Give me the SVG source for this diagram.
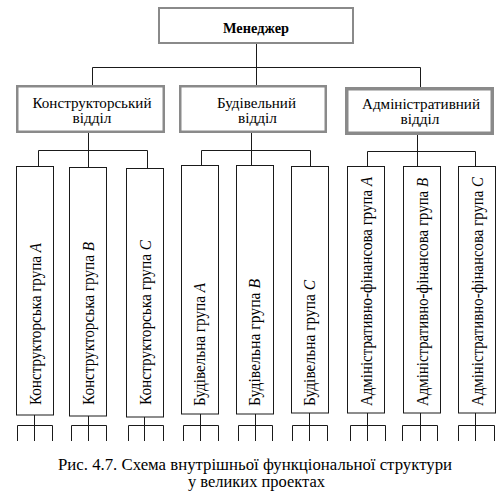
<svg xmlns="http://www.w3.org/2000/svg" width="502" height="497" viewBox="0 0 502 497">
<style>
.bg{fill:#fff}
.top{fill:#fff;stroke:#8a8a8a;stroke-width:2}
.dept{fill:#fff;stroke:#8a8a8a;stroke-width:2.5}
.dept3{fill:#fff;stroke:#8a8a8a;stroke-width:3.5}
.col{fill:#fff;stroke:#1a1a1a;stroke-width:1}
.ln{fill:none;stroke:#1a1a1a;stroke-width:1}
text{font-family:'Liberation Serif','DejaVu Serif',serif;fill:#000}
.t15{font-size:15px}
.t14{font-size:16px}
.cap{font-size:16px}
.b{font-weight:bold}
.i{font-style:italic}
</style>
<rect class="bg" x="0" y="0" width="502" height="497"/>
<g id="connectors">
<path class="ln" d="M256.5,44V67.5M92.5,67.5H420.5M92.5,67.5V85M256.5,67.5V85M420.5,67.5V87"/>
<path class="ln" d="M88.5,133V150.5M38.5,150.5H147.5M38.5,150.5V166M88.5,150.5V167M147.5,150.5V168"/>
<path class="ln" d="M251.5,133V150.5M201.5,150.5H310.5M201.5,150.5V165M251.5,150.5V165M310.5,150.5V166"/>
<path class="ln" d="M417.5,135V151.5M367.5,151.5H475.5M367.5,151.5V166M417.5,151.5V166M475.5,151.5V166"/>
<path class="ln" d="M34.5,415V425.5M17.5,425.5H52.5M17.5,425.5V441M34.5,425.5V441M52.5,425.5V441"/>
<path class="ln" d="M88.5,416V425.5M71.5,425.5H106.5M71.5,425.5V441M88.5,425.5V441M106.5,425.5V441"/>
<path class="ln" d="M144.5,417V425.5M128.5,425.5H163.5M128.5,425.5V441M144.5,425.5V441M163.5,425.5V441"/>
<path class="ln" d="M200.5,414V425.5M183.5,425.5H218.5M183.5,425.5V441M200.5,425.5V441M218.5,425.5V441"/>
<path class="ln" d="M255.5,414V425.5M238.5,425.5H272.5M238.5,425.5V441M255.5,425.5V441M272.5,425.5V441"/>
<path class="ln" d="M309.5,413V425.5M292.5,425.5H327.5M292.5,425.5V441M309.5,425.5V441M327.5,425.5V441"/>
<path class="ln" d="M367.5,413V425.5M350.5,425.5H385.5M350.5,425.5V441M367.5,425.5V441M385.5,425.5V441"/>
<path class="ln" d="M420.5,413V425.5M402.5,425.5H437.5M402.5,425.5V441M420.5,425.5V441M437.5,425.5V441"/>
<path class="ln" d="M475.5,413V425.5M458.5,425.5H494.5M458.5,425.5V441M475.5,425.5V441M494.5,425.5V441"/>
</g>
<g id="manager">
<rect class="top" x="159" y="8" width="194" height="35"/>
<text class="t15 b" x="256" y="33" text-anchor="middle" textLength="66" lengthAdjust="spacingAndGlyphs">Менеджер</text>
</g>
<g id="dept-design">
<rect class="dept" x="17.25" y="86.25" width="146.5" height="45.5"/>
<text class="t15" x="92" y="108" text-anchor="middle" textLength="119" lengthAdjust="spacingAndGlyphs">Конструкторський</text>
<text class="t15" x="92" y="123" text-anchor="middle" textLength="39" lengthAdjust="spacingAndGlyphs">відділ</text>
</g>
<g id="dept-build">
<rect class="dept" x="180.25" y="86.25" width="145.5" height="45.5"/>
<text class="t15" x="256.5" y="108" text-anchor="middle" textLength="79" lengthAdjust="spacingAndGlyphs">Будівельний</text>
<text class="t15" x="257.5" y="123" text-anchor="middle" textLength="39" lengthAdjust="spacingAndGlyphs">відділ</text>
</g>
<g id="dept-admin">
<rect class="dept3" x="346.75" y="88.75" width="145.5" height="44.5"/>
<text class="t15" x="421" y="109" text-anchor="middle" textLength="118" lengthAdjust="spacingAndGlyphs">Адміністративний</text>
<text class="t15" x="420" y="124" text-anchor="middle" textLength="39" lengthAdjust="spacingAndGlyphs">відділ</text>
</g>
<g id="group-k-a">
<rect class="col" x="16.5" y="166.5" width="37" height="248.5"/>
<text class="t14" transform="translate(41,405) rotate(-90)" textLength="162" lengthAdjust="spacingAndGlyphs">Конструкторська група  <tspan class="i">A</tspan></text>
</g>
<g id="group-k-b">
<rect class="col" x="69.5" y="167.5" width="37" height="248.5"/>
<text class="t14" transform="translate(93.5,405) rotate(-90)" textLength="163" lengthAdjust="spacingAndGlyphs">Конструкторська група  <tspan class="i">B</tspan></text>
</g>
<g id="group-k-c">
<rect class="col" x="126.5" y="168.5" width="37" height="248.5"/>
<text class="t14" transform="translate(150.5,405) rotate(-90)" textLength="165" lengthAdjust="spacingAndGlyphs">Конструкторська група  <tspan class="i">C</tspan></text>
</g>
<g id="group-b-a">
<rect class="col" x="181.5" y="165.5" width="37" height="248.5"/>
<text class="t14" transform="translate(205,406) rotate(-90)" textLength="123" lengthAdjust="spacingAndGlyphs">Будівельна група  <tspan class="i">A</tspan></text>
</g>
<g id="group-b-b">
<rect class="col" x="236.5" y="165.5" width="37" height="248.5"/>
<text class="t14" transform="translate(260,406) rotate(-90)" textLength="127" lengthAdjust="spacingAndGlyphs">Будівельна група  <tspan class="i">B</tspan></text>
</g>
<g id="group-b-c">
<rect class="col" x="291.5" y="166.5" width="37" height="246.5"/>
<text class="t14" transform="translate(315,406) rotate(-90)" textLength="126" lengthAdjust="spacingAndGlyphs">Будівельна група  <tspan class="i">C</tspan></text>
</g>
<g id="group-a-a">
<rect class="col" x="347.5" y="166.5" width="37" height="246.5"/>
<text class="t14" transform="translate(371.5,406) rotate(-90)" textLength="229" lengthAdjust="spacingAndGlyphs">Адміністративно-фінансова група <tspan class="i">A</tspan></text>
</g>
<g id="group-a-b">
<rect class="col" x="403.5" y="166.5" width="37" height="246.5"/>
<text class="t14" transform="translate(427.5,406) rotate(-90)" textLength="228" lengthAdjust="spacingAndGlyphs">Адміністративно-фінансова група <tspan class="i">B</tspan></text>
</g>
<g id="group-a-c">
<rect class="col" x="458.5" y="166.5" width="37" height="246.5"/>
<text class="t14" transform="translate(482.5,406) rotate(-90)" textLength="229" lengthAdjust="spacingAndGlyphs">Адміністративно-фінансова група <tspan class="i">C</tspan></text>
</g>
<g id="caption">
<text class="cap" x="255" y="470" text-anchor="middle" textLength="394" lengthAdjust="spacingAndGlyphs">Рис. 4.7. Схема внутрішньої функціональної структури</text>
<text class="cap" x="256.5" y="487" text-anchor="middle" textLength="137" lengthAdjust="spacingAndGlyphs">у великих проектах</text>
</g>
</svg>
